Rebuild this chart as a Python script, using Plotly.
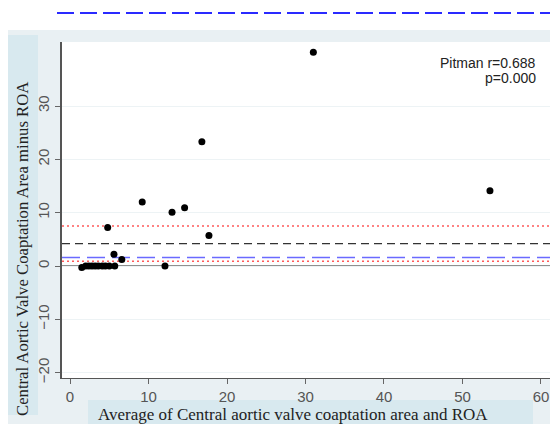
import plotly.graph_objects as go

# Data
avg_vals = [1.5, 2.0, 2.4, 2.8, 3.2, 3.6, 4.1, 4.5, 5.0, 5.7, 4.8, 5.6, 6.6, 9.2, 12.1, 13.0, 14.6, 16.8, 17.7, 31.0, 53.5]
diff_vals = [-0.3, 0.0, 0.0, 0.0, 0.0, 0.0, 0.0, 0.0, 0.0, 0.0, 7.2, 2.2, 1.2, 12.0, 0.0, 10.1, 10.9, 23.3, 5.7, 40.1, 14.1]

mean_diff = 4.2
median_diff = 1.6
ci_upper = 7.5
ci_lower = 0.9

x_ticks = [0, 10, 20, 30, 40, 50, 60]
y_ticks = [-20, -10, 0, 10, 20, 30]

x_title = "Average of Central aortic valve coaptation area and ROA"
y_title = "Central Aortic Valve Coaptation Area minus ROA"
annot_line1 = "Pitman r=0.688"
annot_line2 = "p=0.000"

# Page body has an 8px margin; figure sits at (8, 8) in window pixels.
OFF = 8
W, H = 558 - 2 * OFF, 432 - 2 * OFF
PL, PR, PT, PB = 62, 550, 42, 378          # plot area in window pixels
L, R, T, B = PL - OFF, (OFF + W) - PR, PT - OFF, (OFF + H) - PB
pw, ph = PR - PL, PB - PT
def px(x):
    return (x - PL) / pw
def py(y):
    return (PB - y) / ph

fig = go.Figure()
fig.add_trace(go.Scatter(x=avg_vals, y=diff_vals, mode="markers",
                         marker=dict(color="black", size=7), showlegend=False))

shapes = [
    dict(type="rect", xref="paper", yref="paper", x0=px(0), x1=px(600), y0=py(500), y1=py(30),
         fillcolor="#e9f0f3", line_width=0, layer="below"),
    dict(type="rect", xref="paper", yref="paper", x0=0, x1=1, y0=0, y1=1,
         fillcolor="white", line_width=0, layer="below"),
    dict(type="rect", xref="paper", yref="paper", x0=px(8), x1=px(38), y0=py(415), y1=py(35),
         fillcolor="#d8e9ef", line_width=0, layer="below"),
    dict(type="rect", xref="paper", yref="paper", x0=px(88), x1=px(533), y0=py(430), y1=py(400),
         fillcolor="#d8e9ef", line_width=0, layer="below"),
    dict(type="line", xref="paper", yref="paper", x0=px(57), x1=px(556), y0=py(13), y1=py(13),
         line=dict(color="#2a2aff", width=2, dash="17px,6px")),
]
for yv, col, dash, wd in [
    (0, "#222222", "solid", 1.2),
    (mean_diff, "#333333", "8px,5px", 1.2),
    (median_diff, "#6a6aff", "18px,7px", 1.6),
    (ci_upper, "#ff5a5a", "2px,3px", 1.6),
    (ci_lower, "#ff5a5a", "2px,3px", 1.6),
]:
    shapes.append(dict(type="line", xref="paper", yref="y", x0=0, x1=1, y0=yv, y1=yv,
                       line=dict(color=col, width=wd, dash=dash), layer="below"))

fig.update_layout(
    width=W, height=H,
    margin=dict(l=L, r=R, t=T, b=B, pad=0),
    paper_bgcolor="white", plot_bgcolor="rgba(0,0,0,0)",
    shapes=shapes,
    xaxis=dict(range=[-1.02, 61.15], tickvals=x_ticks, ticks="outside", ticklen=5, tickcolor="#666",
               automargin=False, showgrid=False, zeroline=False, showline=True,
               linecolor="#555", linewidth=1.2,
               tickfont=dict(family="Liberation Sans, Arial", size=15, color="#555")),
    yaxis=dict(range=[-21, 42], tickvals=y_ticks, ticks="outside", ticklen=5, tickcolor="#666",
               automargin=False, tickangle=-90, showgrid=True, gridcolor="#edf3f5", zeroline=False,
               showline=True, linecolor="#555", linewidth=1.5,
               tickfont=dict(family="Liberation Sans, Arial", size=15, color="#555")),
    annotations=[
        dict(xref="paper", yref="paper", x=px(538), y=py(63), xanchor="right", yanchor="middle",
             text=annot_line1, showarrow=False,
             font=dict(family="Liberation Sans, Arial", size=14, color="#222")),
        dict(xref="paper", yref="paper", x=px(538), y=py(78), xanchor="right", yanchor="middle",
             text=annot_line2, showarrow=False,
             font=dict(family="Liberation Sans, Arial", size=14, color="#222")),
        dict(xref="paper", yref="paper", x=px(293), y=py(414), xanchor="center", yanchor="middle",
             text=x_title, showarrow=False,
             font=dict(family="Liberation Serif, Times New Roman", size=17, color="#222")),
        dict(xref="paper", yref="paper", x=px(22), y=py(249), xanchor="center", yanchor="middle",
             text=y_title, showarrow=False, textangle=-90,
             font=dict(family="Liberation Serif, Times New Roman", size=16.7, color="#222")),
    ],
)

fig.write_html("out.html")
